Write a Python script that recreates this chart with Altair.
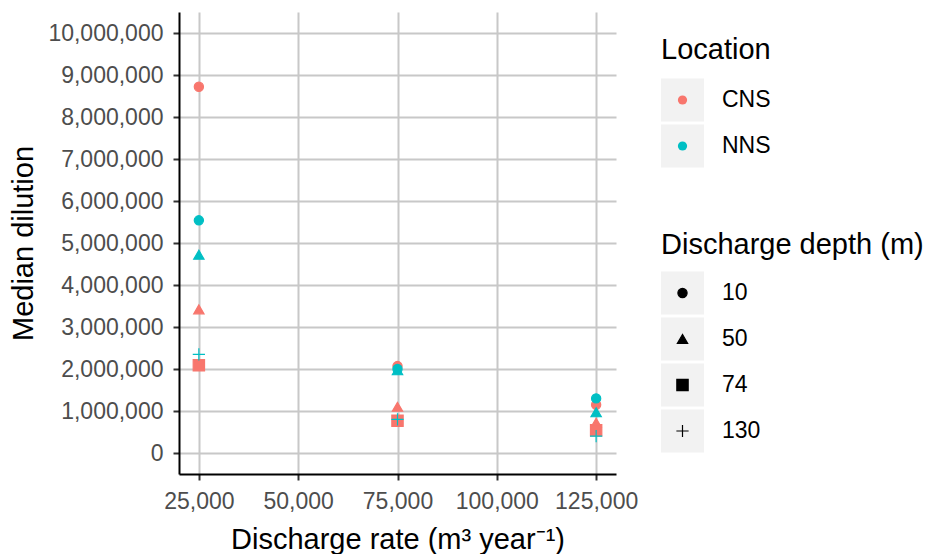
import altair as alt
import pandas as pd

rates = [25000, 75000, 125000]
locations = ["CNS", "CNS", "CNS", "NNS", "NNS", "NNS"]
depths = ["10", "50", "74", "10", "50", "130"]
values = [
    [8720000, 2070000, 1150000],   # CNS 10
    [3420000, 1100000, 720000],    # CNS 50
    [2090000, 770000, 540000],     # CNS 74
    [5540000, 2000000, 1300000],   # NNS 10
    [4720000, 1970000, 970000],    # NNS 50
    [2350000, 800000, 400000],     # NNS 130
]

x_ticks = [25000, 50000, 75000, 100000, 125000]
y_ticks = [0, 1000000, 2000000, 3000000, 4000000, 5000000,
           6000000, 7000000, 8000000, 9000000, 10000000]

loc_domain = ["CNS", "NNS"]
loc_colors = ["#F8766D", "#00BFC4"]
depth_domain = ["10", "50", "74", "130"]
plus_path = "M-1,0L1,0M0,-1L0,1"
shape_range = ["circle", "triangle-up", "square", plus_path]
size_range = [85, 150, 85, 190]

rows = []
for loc, dep, vals in zip(locations, depths, values):
    for r, v in zip(rates, vals):
        rows.append({"rate": r, "dilution": v, "Location": loc, "depth": dep})
df = pd.DataFrame(rows)

FONT = "Liberation Sans"
color_scale = alt.Scale(domain=loc_domain, range=loc_colors)
shape_scale = alt.Scale(domain=depth_domain, range=shape_range)
size_scale = alt.Scale(domain=depth_domain, range=size_range)

main = alt.Chart(df).mark_point(filled=True, opacity=1, strokeWidth=1.2).encode(
    x=alt.X("rate:Q", title="Discharge rate (m³ year⁻¹)",
            scale=alt.Scale(domain=[20000, 130000], nice=False, zero=False),
            axis=alt.Axis(values=x_ticks, format=",d", labelPadding=10, titlePadding=12)),
    y=alt.Y("dilution:Q", title="Median dilution",
            scale=alt.Scale(domain=[-500000, 10500000], nice=False),
            axis=alt.Axis(values=y_ticks, format=",d", labelPadding=10, titlePadding=9)),
    color=alt.Color("Location:N", scale=color_scale, legend=None),
    stroke=alt.Stroke("Location:N", scale=color_scale, legend=None),
    shape=alt.Shape("depth:N", scale=shape_scale, legend=None),
    size=alt.Size("depth:N", scale=size_scale, legend=None),
).properties(width=437, height=462)

# ---- custom legends (ggplot style keys with grey backgrounds) ----
def legend_block(items, field, title, symbol_enc, title_offset):
    d = pd.DataFrame({field: items})
    ysort = alt.Y(f"{field}:N", sort=items, axis=None,
                  scale=alt.Scale(domain=items))
    base = alt.Chart(d).encode(y=ysort)
    box = base.mark_square(size=43 * 43, color="#F2F2F2", opacity=1).encode(x=alt.value(21.5))
    sym = base.mark_point(filled=True, opacity=1, strokeWidth=1.2).encode(
        x=alt.value(21.5), **symbol_enc)
    txt = base.mark_text(align="left", baseline="middle", font=FONT, fontSize=23,
                         color="black").encode(x=alt.value(61), text=f"{field}:N")
    return alt.layer(box, sym, txt).properties(
        width=100, height=alt.Step(46),
        title=alt.TitleParams(title, anchor="start", font=FONT, fontSize=29,
                              fontWeight="normal", color="black", offset=title_offset),
    )

leg_loc = legend_block(
    loc_domain, "Location", "Location",
    dict(color=alt.Color("Location:N", scale=color_scale, legend=None),
         size=alt.value(85)),
    12,
)
leg_depth = legend_block(
    depth_domain, "depth", "Discharge depth (m)",
    dict(color=alt.value("black"), stroke=alt.value("black"),
         shape=alt.Shape("depth:N", scale=shape_scale, legend=None),
         size=alt.Size("depth:N", scale=size_scale, legend=None)),
    10,
)

spacer = alt.Chart(pd.DataFrame({"s": []})).mark_point().encode(
    x=alt.value(0), y=alt.value(0)).properties(width=10, height=4)

legend_col = alt.vconcat(spacer, alt.vconcat(leg_loc, leg_depth, spacing=62), spacing=20)

chart = alt.hconcat(main, legend_col, spacing=23).properties(
    padding={"left": 9, "top": 12, "right": 0, "bottom": 0}
).configure_view(
    stroke=None
).configure_axis(
    grid=True, gridColor="#C8C8C8", gridWidth=2,
    domain=True, domainColor="black", domainWidth=2,
    tickColor="#333333", tickSize=6, tickWidth=2,
    labelFont=FONT, labelFontSize=23, labelColor="#4D4D4D",
    titleFont=FONT, titleFontSize=29, titleFontWeight="normal", titleColor="black",
)

chart.save("out.html", embed_options={"renderer": "svg", "actions": False})
